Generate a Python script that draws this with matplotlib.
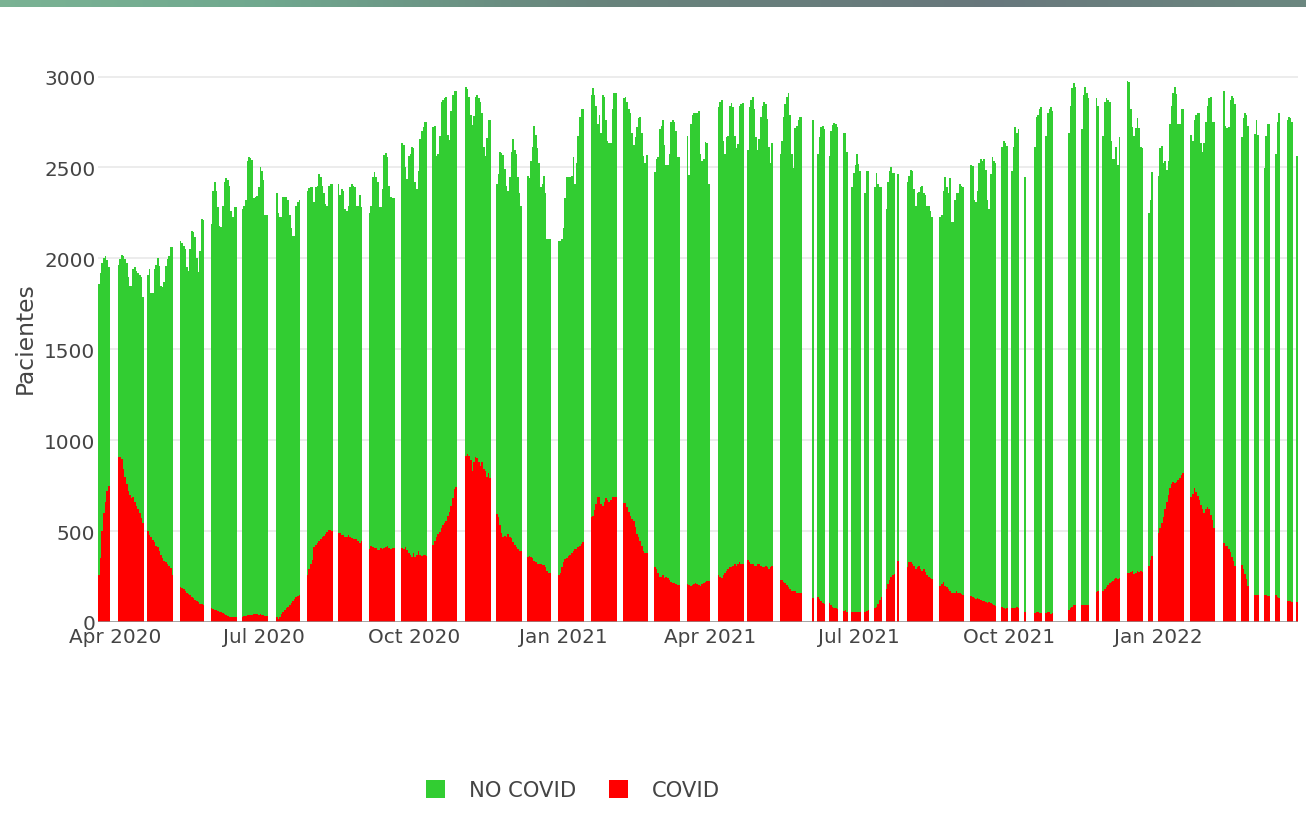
import numpy as np
import pandas as pd
import matplotlib
matplotlib.use("Agg")
import matplotlib.pyplot as plt
import matplotlib.dates as mdates
from matplotlib.patches import Patch
from matplotlib.colors import LinearSegmentedColormap

# ---------------- data ----------------
# each block = consecutive days with data, starting on the given date
segment_start = [
    "2020-03-22", "2020-04-03", "2020-04-21", "2020-05-11", "2020-05-30",
    "2020-06-18", "2020-07-09", "2020-07-28", "2020-08-16", "2020-09-04",
    "2020-09-24", "2020-10-13", "2020-11-02", "2020-11-21", "2020-12-10",
    "2020-12-29", "2021-01-18", "2021-02-07", "2021-02-26", "2021-03-18",
    "2021-04-06", "2021-04-24", "2021-05-14", "2021-06-03", "2021-06-06",
    "2021-06-13", "2021-06-22", "2021-06-27", "2021-07-05", "2021-07-11",
    "2021-07-18", "2021-07-25", "2021-07-31", "2021-08-20", "2021-09-08",
    "2021-09-27", "2021-10-03", "2021-10-11", "2021-10-17", "2021-10-24",
    "2021-11-07", "2021-11-15", "2021-11-24", "2021-11-28", "2021-12-13",
    "2021-12-26", "2022-01-01", "2022-01-21", "2022-02-10", "2022-02-21",
    "2022-03-01", "2022-03-07", "2022-03-14", "2022-03-21", "2022-03-27",
]

# total patients (top of the stacked bar) per day
total_patients = [
    [1860, 1920, 1975, 2000, 2015, 1990, 1950],
    [1965, 1995, 2020, 2015, 1995, 1975, 1900, 1850, 1850, 1940, 1950, 1930, 1920, 1910, 1900, 1790],
    [1910, 1940, 1810, 1810, 1940, 1965, 2000, 1960, 1850, 1840, 1870, 1960, 1995, 2015, 2060, 2065],
    [2095, 2085, 2070, 2050, 1950, 1930, 2050, 2150, 2145, 2120, 2000, 1925, 2040, 2215, 2210],
    [2190, 2370, 2420, 2370, 2280, 2180, 2170, 2290, 2420, 2440, 2430, 2400, 2260, 2230, 2280, 2280],
    [2270, 2290, 2320, 2535, 2555, 2550, 2540, 2330, 2340, 2345, 2390, 2505, 2480, 2430, 2240, 2240],
    [2360, 2250, 2230, 2230, 2340, 2340, 2335, 2320, 2240, 2165, 2125, 2125, 2290, 2310, 2320],
    [2370, 2385, 2390, 2390, 2310, 2390, 2400, 2465, 2445, 2400, 2360, 2300, 2290, 2400, 2410, 2410],
    [2410, 2350, 2380, 2370, 2270, 2260, 2290, 2390, 2410, 2400, 2390, 2290, 2290, 2350, 2280],
    [2250, 2290, 2445, 2475, 2450, 2420, 2280, 2280, 2380, 2570, 2580, 2560, 2400, 2340, 2330, 2330],
    [2635, 2625, 2505, 2435, 2565, 2575, 2615, 2605, 2420, 2380, 2480, 2655, 2700, 2720, 2750, 2750],
    [2720, 2730, 2565, 2575, 2675, 2860, 2870, 2880, 2890, 2680, 2650, 2810, 2900, 2920, 2920],
    [2940, 2930, 2890, 2790, 2735, 2785, 2890, 2900, 2880, 2860, 2800, 2615, 2565, 2660, 2760, 2760],
    [2410, 2465, 2585, 2580, 2570, 2490, 2400, 2370, 2450, 2585, 2655, 2595, 2575, 2450, 2360, 2290],
    [2455, 2440, 2535, 2615, 2730, 2680, 2605, 2525, 2390, 2410, 2455, 2360, 2105, 2105, 2105],
    [2095, 2095, 2105, 2165, 2330, 2445, 2450, 2450, 2455, 2555, 2410, 2525, 2675, 2780, 2820, 2820],
    [2900, 2935, 2900, 2840, 2740, 2790, 2690, 2900, 2890, 2760, 2645, 2635, 2635, 2820, 2910, 2910],
    [2880, 2890, 2860, 2820, 2800, 2690, 2625, 2670, 2720, 2770, 2780, 2690, 2565, 2525, 2570],
    [2475, 2545, 2555, 2710, 2730, 2760, 2625, 2515, 2515, 2575, 2750, 2760, 2750, 2700, 2555, 2555],
    [2675, 2460, 2740, 2790, 2800, 2800, 2800, 2810, 2575, 2535, 2545, 2640, 2635, 2410],
    [2830, 2860, 2870, 2645, 2575, 2670, 2675, 2840, 2855, 2830, 2675, 2605, 2630, 2840, 2850, 2855],
    [2595, 2830, 2870, 2890, 2820, 2665, 2595, 2655, 2780, 2840, 2860, 2850, 2765, 2615, 2525, 2635],
    [2575, 2645, 2780, 2850, 2890, 2910, 2790, 2575, 2495, 2715, 2730, 2760, 2780, 2780],
    [2760],
    [2575, 2670, 2720, 2730, 2710],
    [2565, 2700, 2735, 2745, 2740, 2725],
    [2690, 2690, 2585],
    [2390, 2470, 2515, 2575, 2520, 2480],
    [2360, 2480, 2480],
    [2390, 2470, 2410, 2390, 2390],
    [2270, 2420, 2480, 2505, 2470, 2470],
    [2465],
    [2420, 2455, 2485, 2480, 2380, 2290, 2360, 2365, 2390, 2400, 2360, 2350, 2290, 2290, 2260, 2230],
    [2230, 2240, 2370, 2445, 2390, 2360, 2440, 2200, 2200, 2320, 2360, 2360, 2410, 2400, 2390],
    [2515, 2510, 2320, 2310, 2370, 2525, 2545, 2535, 2545, 2485, 2320, 2270, 2465, 2555, 2535, 2525],
    [2615, 2645, 2635, 2620],
    [2480, 2615, 2720, 2690, 2710],
    [2445],
    [2615, 2780, 2790, 2820, 2830],
    [2675, 2800, 2820, 2830, 2810],
    [2690, 2840, 2935, 2965, 2940],
    [2710, 2900, 2940, 2910, 2880],
    [2880, 2840],
    [2675, 2860, 2880, 2870, 2860, 2645, 2545, 2545, 2615, 2515, 2665],
    [2975, 2970, 2820, 2720, 2675, 2715, 2770, 2715, 2615, 2605],
    [2250, 2320, 2475],
    [2455, 2605, 2620, 2525, 2535, 2485, 2535, 2740, 2840, 2910, 2940, 2905, 2740, 2740, 2820, 2820],
    [2680, 2645, 2760, 2790, 2800, 2800, 2635, 2585, 2635, 2750, 2840, 2880, 2890, 2750, 2750],
    [2920, 2730, 2715, 2725, 2870, 2895, 2880, 2850],
    [2665, 2770, 2800, 2790, 2730],
    [2685, 2760, 2680],
    [2495, 2675, 2740, 2740],
    [2575, 2750, 2800],
    [2760, 2780, 2770, 2750],
    [2565],
]

# COVID patients per day (red, bottom of the stack)
covid_patients = [
    [260, 350, 500, 600, 660, 720, 750],
    [908, 905, 895, 840, 800, 760, 720, 700, 680, 690, 660, 640, 620, 600, 570, 545],
    [500, 480, 470, 450, 440, 420, 410, 390, 370, 350, 335, 330, 320, 310, 295, 260],
    [195, 185, 180, 170, 160, 155, 150, 140, 130, 120, 115, 110, 100, 98, 95],
    [75, 70, 65, 65, 60, 55, 55, 50, 45, 40, 35, 30, 25, 25, 25, 25],
    [30, 35, 35, 38, 38, 40, 40, 45, 45, 45, 40, 42, 40, 38, 35, 35],
    [25, 15, 30, 45, 55, 65, 75, 85, 95, 105, 115, 125, 135, 145, 150],
    [260, 290, 320, 340, 410, 425, 435, 445, 455, 465, 475, 485, 495, 505, 505, 500],
    [490, 490, 480, 478, 470, 467, 476, 470, 463, 457, 457, 457, 447, 437, 445],
    [400, 418, 412, 408, 408, 398, 398, 408, 404, 408, 412, 418, 408, 404, 408, 405],
    [405, 400, 410, 398, 380, 370, 360, 378, 360, 370, 388, 370, 365, 368, 368, 365],
    [425, 445, 465, 485, 495, 515, 535, 545, 555, 585, 605, 640, 680, 730, 740],
    [915, 925, 915, 890, 830, 880, 910, 900, 880, 860, 880, 840, 830, 800, 820, 790],
    [595, 580, 535, 490, 465, 475, 465, 485, 470, 460, 440, 425, 415, 400, 390, 390],
    [360, 365, 360, 350, 335, 330, 320, 320, 320, 315, 315, 300, 280, 270, 270],
    [260, 270, 300, 330, 345, 350, 365, 370, 380, 390, 400, 400, 410, 420, 430, 440],
    [575, 585, 615, 650, 690, 685, 650, 640, 660, 680, 670, 660, 670, 685, 690, 690],
    [655, 655, 635, 605, 585, 565, 555, 525, 485, 465, 445, 420, 390, 380, 380],
    [300, 290, 270, 250, 250, 260, 240, 250, 240, 230, 220, 212, 212, 208, 205, 205],
    [210, 205, 200, 205, 210, 215, 210, 205, 200, 210, 215, 220, 225, 225],
    [260, 250, 240, 260, 270, 280, 290, 300, 300, 310, 320, 310, 320, 330, 320, 320],
    [340, 330, 320, 320, 310, 310, 320, 320, 310, 300, 300, 310, 300, 290, 300, 310],
    [230, 232, 222, 212, 202, 192, 182, 172, 172, 168, 162, 162, 157, 157],
    [133],
    [135, 125, 115, 105, 100],
    [105, 95, 85, 75, 75, 70],
    [60, 65, 55],
    [55, 55, 55, 55, 55, 55],
    [55, 58, 65],
    [75, 85, 100, 120, 135],
    [180, 210, 230, 250, 260, 265],
    [333],
    [300, 330, 330, 320, 310, 290, 300, 310, 290, 280, 290, 275, 260, 250, 240, 235],
    [200, 210, 220, 200, 190, 180, 170, 162, 162, 162, 168, 162, 157, 153, 150],
    [145, 137, 133, 124, 130, 124, 120, 114, 118, 110, 104, 108, 104, 100, 94, 90],
    [85, 75, 70, 78],
    [75, 75, 78, 85, 75],
    [55],
    [50, 55, 55, 50, 50],
    [50, 55, 55, 45, 50],
    [68, 75, 85, 92, 93],
    [95, 95, 95, 95, 95],
    [165, 170],
    [170, 180, 195, 205, 215, 220, 225, 235, 240, 235, 240],
    [270, 270, 275, 280, 265, 270, 280, 275, 280, 275],
    [310, 340, 365],
    [490, 515, 545, 580, 620, 660, 700, 735, 760, 770, 765, 770, 780, 790, 810, 820],
    [690, 705, 735, 715, 695, 670, 645, 620, 600, 620, 635, 620, 590, 560, 515],
    [435, 420, 420, 400, 385, 360, 335, 310],
    [315, 290, 265, 235, 200],
    [150, 150, 150],
    [150, 150, 145, 145],
    [150, 140, 130],
    [118, 118, 115, 110],
    [110],
]

y_ticks = [0, 500, 1000, 1500, 2000, 2500, 3000]
legend_labels = ["NO COVID", "COVID"]
y_title = "Pacientes"

# ---------------- build daily series ----------------
dates, total, covid = [], [], []
for start, tot_seg, cov_seg in zip(segment_start, total_patients, covid_patients):
    d0 = pd.Timestamp(start)
    for k, (tv, cv) in enumerate(zip(tot_seg, cov_seg)):
        dates.append(d0 + pd.Timedelta(days=k))
        total.append(tv)
        covid.append(cv)
dates = pd.to_datetime(dates)
total = np.array(total, dtype=float)
covid = np.array(covid, dtype=float)
no_covid = total - covid

GREEN = "#32CD32"
RED = "#FF0000"
TXT = "#444444"

W, H = 1306, 828
fig = plt.figure(figsize=(W / 100, H / 100), dpi=100)
fig.patch.set_facecolor("white")

# top decorative gradient band
band = fig.add_axes([0, 1 - 8 / H, 1, 8 / H])
cmap = LinearSegmentedColormap.from_list(
    "band",
    [(0.0, (0.48, 0.70, 0.58)), (0.2, (0.44, 0.66, 0.56)), (0.45, (0.41, 0.52, 0.49)),
     (0.75, (0.41, 0.47, 0.49)), (1.0, (0.42, 0.53, 0.50))])
band.imshow(np.linspace(0, 1, 512)[None, :], aspect="auto", cmap=cmap,
            extent=[0, 1, 0, 1])
band.set_axis_off()

# main axes
left_px, right_px = 98.2, 1298.0
top_px, bottom_px = 53.0, 623.0
ax = fig.add_axes([left_px / W, 1 - bottom_px / H,
                   (right_px - left_px) / W, (bottom_px - top_px) / H])

ax.bar(dates, covid, width=1.0, color=RED, linewidth=0, antialiased=False,
       align="center", zorder=2)
ax.bar(dates, no_covid, bottom=covid, width=1.0, color=GREEN, linewidth=0,
       antialiased=False, align="center", zorder=2)

x0 = dates.min() - pd.Timedelta(hours=12)
x1 = dates.max() + pd.Timedelta(hours=12)
ax.set_xlim(x0, x1)
ax.set_ylim(0, 3135)

ax.set_yticks(y_ticks)
ax.set_yticklabels([str(v) for v in y_ticks])
ax.yaxis.grid(True, color="#ebebeb", linewidth=1.3, zorder=0)
ax.set_axisbelow(True)
ax.axhline(0, color="#8f8f8f", linewidth=1.8, zorder=3)

ax.xaxis.set_major_locator(mdates.MonthLocator(bymonth=[1, 4, 7, 10]))
ax.xaxis.set_major_formatter(mdates.DateFormatter("%b %Y"))

for s in ax.spines.values():
    s.set_visible(False)
ax.tick_params(axis="both", length=0, labelsize=14.4, colors=TXT)
ax.tick_params(axis="y", pad=2.0)
ax.tick_params(axis="x", pad=3.6)

fig.text(25 / W, 1 - 338 / H, y_title, rotation=90, ha="center", va="center",
         fontsize=16.8, color=TXT)

handles = [Patch(facecolor=GREEN, edgecolor="none"),
           Patch(facecolor=RED, edgecolor="none")]
fig.legend(handles, legend_labels, loc="center", bbox_to_anchor=(573 / W, 1 - 791 / H),
           ncol=2, frameon=False, fontsize=15.2, labelcolor=TXT,
           handlelength=0.9, handleheight=0.9, handletextpad=1.15,
           columnspacing=1.55)

fig.savefig("out.png", dpi=100, facecolor="white")
